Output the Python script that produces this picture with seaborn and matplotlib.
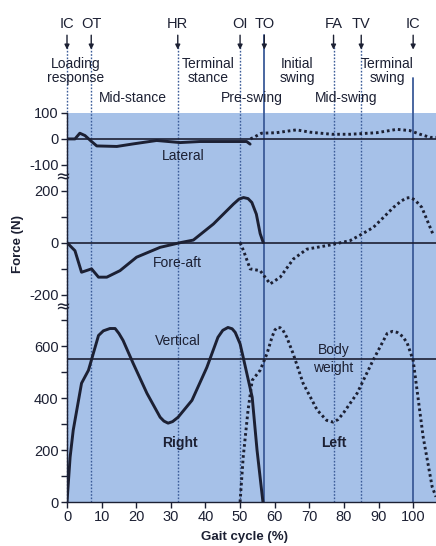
import matplotlib
matplotlib.use("Agg")
import matplotlib.pyplot as plt
import seaborn as sns
import pandas as pd
from matplotlib.transforms import blended_transform_factory

# ---- ground reaction force data (gait cycle %, force N) ----
lat_right_x = [0, 2.3, 3.7, 5.2, 7.1, 8.6, 14.4, 19.2, 25.9, 32.7, 38.4, 45, 51.9, 52.9]
lat_right_f = [0, 0, 22, 13, -10, -27, -29, -19, -6, -14, -10, -10, -10, -20]
lat_left_x = [53, 53.9, 56.2, 60.5, 66.3, 70.2, 76.5, 81.8, 89.5, 95.3, 99.1, 102, 104.9, 106.6]
lat_left_f = [0, 6, 22, 24, 35, 26, 18, 18, 24, 37, 32, 18, 6, 6]

fa_right_x = [0, 2.3, 4.2, 7.1, 9.1, 11.5, 15.3, 20.1, 26.9, 32.7, 36.5, 42.3, 48.1,
              49.7, 51.0, 52.3, 53.4, 54.7, 55.8, 56.7]
fa_right_f = [0, -31, -114, -101, -133, -133, -108, -56, -18, 0, 10, 72, 149,
              168, 174, 170, 155, 110, 35, 0]
fa_left_x = [50, 51, 52.9, 55.8, 58.7, 61.6, 65.4, 69.3, 76, 81.8, 85.2, 88.5, 91.4, 94.3,
             96.5, 98, 99.1, 100.5, 102.5, 105.9]
fa_left_f = [0, -31, -101, -108, -159, -133, -63, -25, -9, 8, 33, 59, 97, 136,
             160, 172, 174, 165, 136, 27]

vert_right_x = [0, 0.9, 1.8, 4.2, 6.2, 9.1, 10.5, 12.4, 13.9, 15, 16.2, 19.1, 23.1, 26.9,
                28, 29.2, 30.5, 32.1, 36.1, 40.4, 43.6, 45, 46.5, 47.7, 48.6, 50, 50.9,
                53.5, 54.9, 56.6]
vert_right_f = [0, 173, 277, 458, 508, 642, 660, 669, 669, 650, 623, 535, 419, 327,
                312, 304, 310, 327, 392, 519, 635, 662, 673, 668, 654, 610, 558,
                404, 200, 0]
vert_left_x = [50, 50.9, 52.3, 53.5, 55.8, 57.8, 59.2, 60, 60.7, 61.6, 62.4, 63.5, 65.3,
               68.2, 72.3, 75, 76.9, 78.3, 79.8, 83.8, 88.4, 92.5, 94, 95.4, 97, 98.3,
               100, 102.9, 105.5, 106.6]
vert_left_f = [0, 173, 354, 469, 508, 573, 635, 662, 673, 672, 662, 635, 573,
               458, 354, 315, 308, 318, 342, 419, 546, 650, 658, 654, 638, 612,
               546, 250, 58, 20]

body_weight = 550

# gait events and phases
event_names = ["IC", "OT", "HR", "OI", "TO", "FA", "TV", "IC"]
event_pos = [0, 7, 32, 50, 57, 77, 85, 100]
event_solid = [False, False, False, False, True, False, False, True]

phase_names = ["Loading\nresponse", "Mid-stance", "Terminal\nstance", "Pre-swing",
               "Initial\nswing", "Mid-swing", "Terminal\nswing"]
phase_pos = [2.6, 19, 40.7, 53.4, 66.6, 80.6, 92.5]

# y-axis tick labels of each panel
lat_ticks = [100, 0, -100]
fa_ticks = [200, 0, -200]
vert_ticks = [0, 200, 400, 600]
x_ticks = [0, 10, 20, 30, 40, 50, 60, 70, 80, 90, 100]

# vertical offsets that stack the three panels on one axis
OFFSETS = {"Lateral": 1400, "Fore-aft": 1000, "Vertical": 0}

traces = [
    ("Lateral", "Right", lat_right_x, lat_right_f),
    ("Lateral", "Left", lat_left_x, lat_left_f),
    ("Fore-aft", "Right", fa_right_x, fa_right_f),
    ("Fore-aft", "Left", fa_left_x, fa_left_f),
    ("Vertical", "Right", vert_right_x, vert_right_f),
    ("Vertical", "Left", vert_left_x, vert_left_f),
]
rows = []
for comp, side, xs, fs in traces:
    for i, (x, f) in enumerate(zip(xs, fs)):
        rows.append({"trace": f"{comp}-{side}", "side": side, "order": i,
                     "cycle": x, "y": f + OFFSETS[comp]})
df = pd.DataFrame(rows)

sns.set_style("ticks")
font_list = ["Liberation Sans Narrow", "Liberation Sans", "DejaVu Sans"]
plt.rcParams["font.family"] = font_list

INK = "#1c2033"
BLUE_LINE = "#3b5b98"
BG = "#a6c1e8"

fig = plt.figure(figsize=(4.36, 5.46), dpi=100)
ax = fig.add_axes([67 / 436, 44 / 546, 369 / 436, 389 / 546])
ax.set_facecolor(BG)
ax.set_xlim(0, 106.6)
ax.set_ylim(0, 1500)

# baselines: lateral zero, fore-aft zero, body weight
for yb in (OFFSETS["Lateral"], OFFSETS["Fore-aft"], body_weight):
    ax.axhline(yb, color=INK, lw=1.2, zorder=2)

# gait event lines
trans = blended_transform_factory(ax.transData, ax.transAxes)
for name, xp, solid in zip(event_names, event_pos, event_solid):
    if solid:
        top = 1.20 if name == "TO" else 1.09
        ax.plot([xp, xp], [0, top], transform=trans, color=BLUE_LINE, lw=1.3,
                clip_on=False, zorder=1.5)
    else:
        ax.plot([xp, xp], [0, 1.17], transform=trans, color=BLUE_LINE, lw=1.0,
                ls=(0, (1.2, 1.2)), clip_on=False, zorder=1.5)
    ax.annotate("", xy=(xp, 1.163), xytext=(xp, 1.2), xycoords=trans, textcoords=trans,
                arrowprops=dict(arrowstyle="-|>", color=INK, lw=1.0, mutation_scale=7,
                                shrinkA=0, shrinkB=0))
    ax.text(xp, 1.228, name, transform=trans, ha="center", va="center",
            fontsize=10.5, color=INK)

for name, xp in zip(phase_names, phase_pos):
    yp = 1.108 if "\n" in name else 1.038
    ax.text(xp, yp, name, transform=trans, ha="center", va="center", fontsize=10,
            color=INK, linespacing=0.95)

# force curves
sns.lineplot(data=df, x="cycle", y="y", units="trace", estimator=None, sort=False,
             style="side", dashes={"Right": "", "Left": (0.9, 1.0)},
             color=INK, lw=2.1, legend=False, ax=ax, zorder=3)
for line in ax.lines[-6:]:
    line.set_solid_capstyle("round")
    line.set_solid_joinstyle("round")

# panel labels
ax.text(33.5, 1335, "Lateral", ha="center", va="center", fontsize=10, color=INK)
ax.text(32, 923, "Fore-aft", ha="center", va="center", fontsize=10, color=INK)
ax.text(32, 619, "Vertical", ha="center", va="center", fontsize=10, color=INK)
ax.text(32.7, 227, "Right", ha="center", va="center", fontsize=10, color=INK, fontweight="bold")
ax.text(77, 550, "Body\nweight", ha="center", va="center", fontsize=10, color=INK,
        linespacing=1.35)
ax.text(77, 227, "Left", ha="center", va="center", fontsize=10, color=INK, fontweight="bold")

# y ticks: minor every 100 N per panel, labels on the listed values
tick_pos, tick_lab = [], []
for comp, vals, lo, hi in (("Vertical", vert_ticks, 0, 700),
                           ("Fore-aft", fa_ticks, -200, 200),
                           ("Lateral", lat_ticks, -100, 100)):
    for v in range(lo, hi + 1, 100):
        tick_pos.append(v + OFFSETS[comp])
        tick_lab.append(str(v) if v in vals else "")
ax.set_yticks(tick_pos)
ax.set_yticklabels(tick_lab)
ax.set_xticks(x_ticks)
ax.set_xticklabels([str(v) for v in x_ticks])
ax.tick_params(axis="both", direction="out", length=4, width=1, colors=INK,
               labelsize=10.5, pad=2)

for side in ("top", "right"):
    ax.spines[side].set_visible(False)
for side in ("left", "bottom"):
    ax.spines[side].set_color(INK)
    ax.spines[side].set_linewidth(1.0)

# axis-break marks
for yb in (1250, 750):
    ax.text(-0.012, yb, "≈", transform=blended_transform_factory(ax.transAxes, ax.transData),
            ha="center", va="center", fontsize=13, color=INK, family=["DejaVu Sans"])

ax.set_xlabel("")
ax.set_ylabel("")
ax.text(0.482, -0.09, "Gait cycle (%)", transform=ax.transAxes, ha="center", va="center",
        fontsize=9.5, fontweight="bold", color=INK)
ax.text(-0.134, 0.663, "Force (N)", transform=ax.transAxes, ha="center", va="center",
        rotation=90, fontsize=9.5, fontweight="bold", color=INK)

fig.savefig("out.png", dpi=100, facecolor="white")
